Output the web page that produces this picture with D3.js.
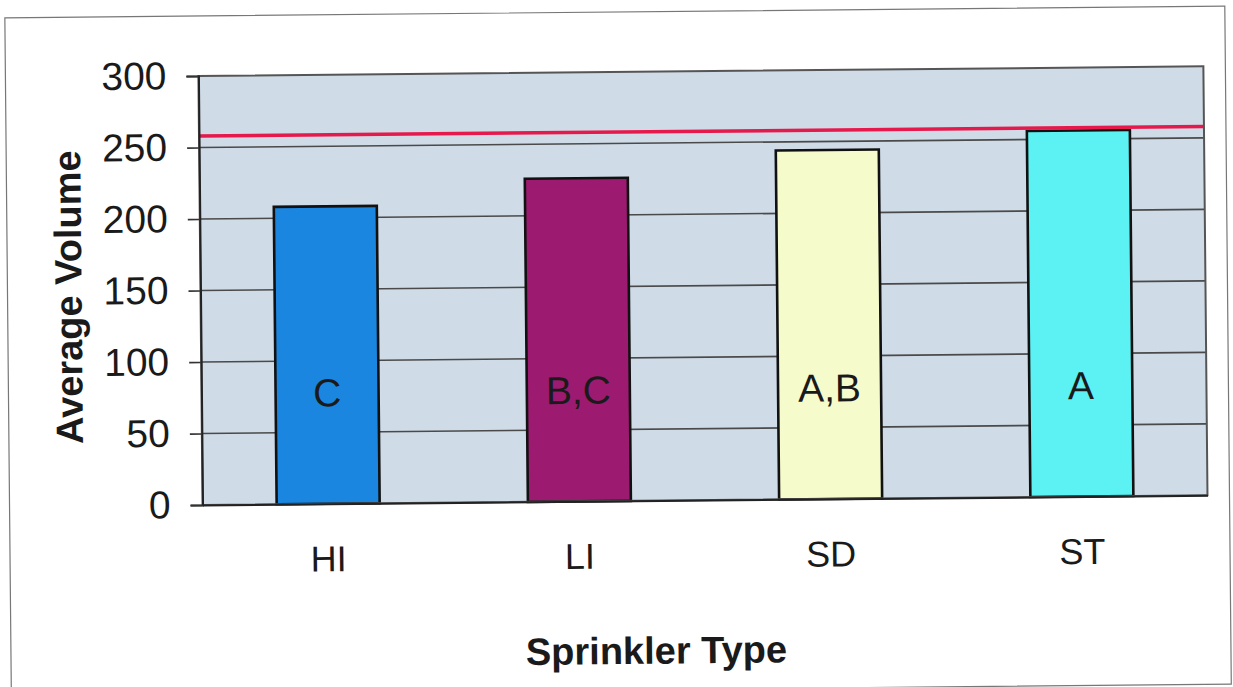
<!DOCTYPE html>
<html>
<head>
<meta charset="utf-8">
<script src="https://cdn.jsdelivr.net/npm/d3@7"></script>
<style>
  body { margin: 0; background: #fff; }
  svg { display: block; }
</style>
</head>
<body>
<svg width="1233" height="687"></svg>
<script>
// sprinkler types + mean volume
var types = ["HI", "LI", "SD", "ST"];
var volumes = [208, 226, 244, 256];
var groups = ["C", "B,C", "A,B", "A"];
var barColors = ["#1a86e0", "#9c1b70", "#f6fbcb", "#5cf1f3"];
var refValue = 258;
var yTicks = [0, 50, 100, 150, 200, 250, 300];

var svg = d3.select("svg");
var font = "'Liberation Sans', Arial, sans-serif";

// scan is slightly tilted, so turn the whole page a touch
var root = svg.append("g")
    .attr("transform", "rotate(-0.55,616,343)");

// page frame
root.append("rect")
    .attr("x", 8).attr("y", 12)
    .attr("width", 1220).attr("height", 678)
    .attr("fill", "#fff")
    .attr("stroke", "#777")
    .attr("stroke-width", 1.2);

var plotL = 201, plotR = 1206, plotT = 72, plotB = 501;

var x = d3.scaleBand()
    .domain(types)
    .range([plotL, plotR])
    .paddingInner(0.59)
    .paddingOuter(0.295);

var y = d3.scaleLinear()
    .domain([0, 300])
    .range([plotB, plotT]);

// plot area
root.append("rect")
    .attr("x", plotL).attr("y", plotT)
    .attr("width", plotR - plotL).attr("height", plotB - plotT)
    .attr("fill", "#cfdbe7");

// gridlines
root.append("g")
    .selectAll("line")
    .data(yTicks.slice(1, -1))
    .enter().append("line")
    .attr("x1", plotL).attr("x2", plotR)
    .attr("y1", d => y(d)).attr("y2", d => y(d))
    .attr("stroke", "#4a4a4a")
    .attr("stroke-width", 1.6);

// bars
root.append("g")
    .selectAll("rect")
    .data(types)
    .enter().append("rect")
    .attr("x", d => x(d))
    .attr("y", (d, i) => y(volumes[i]))
    .attr("width", x.bandwidth())
    .attr("height", (d, i) => y(0) - y(volumes[i]))
    .attr("fill", (d, i) => barColors[i])
    .attr("stroke", "#111")
    .attr("stroke-width", 2.6);

// significance letters
root.append("g")
    .selectAll("text")
    .data(types)
    .enter().append("text")
    .attr("x", d => x(d) + x.bandwidth() / 2)
    .attr("y", y(78))
    .attr("dy", "0.36em")
    .attr("text-anchor", "middle")
    .style("font-family", font)
    .style("font-size", "39px")
    .attr("fill", "#1a1a1a")
    .text((d, i) => groups[i]);

// reference line
root.append("line")
    .attr("x1", plotL).attr("x2", plotR)
    .attr("y1", y(refValue)).attr("y2", y(refValue))
    .attr("stroke", "#e5194c")
    .attr("stroke-width", 3.5);

// plot border
root.append("rect")
    .attr("x", plotL).attr("y", plotT)
    .attr("width", plotR - plotL).attr("height", plotB - plotT)
    .attr("fill", "none")
    .attr("stroke", "#555")
    .attr("stroke-width", 2);

// y axis
var yAxis = root.append("g")
    .attr("transform", "translate(" + plotL + ",0)")
    .call(d3.axisLeft(y).tickValues(yTicks).tickSize(12).tickPadding(20));
yAxis.select(".domain").attr("stroke", "#222").attr("stroke-width", 2);
yAxis.selectAll(".tick line").attr("stroke", "#333").attr("stroke-width", 1.6);
yAxis.selectAll("text")
    .style("font-family", font)
    .style("font-size", "39px")
    .attr("fill", "#1a1a1a");

// x axis labels (no tick marks in the original)
var xAxis = root.append("g")
    .attr("transform", "translate(0," + plotB + ")")
    .call(d3.axisBottom(x).tickSize(0).tickPadding(42));
xAxis.select(".domain").attr("stroke", "#222").attr("stroke-width", 2);
xAxis.selectAll("text")
    .style("font-family", font)
    .style("font-size", "36px")
    .attr("fill", "#1a1a1a");

// axis titles
root.append("text")
    .attr("transform", "translate(82,292) rotate(-90)")
    .attr("text-anchor", "middle")
    .style("font-family", font)
    .style("font-weight", "bold")
    .style("font-size", "38px")
    .attr("fill", "#1a1a1a")
    .text("Average Volume");

root.append("text")
    .attr("x", (plotL + plotR) / 2 - 50)
    .attr("y", 664)
    .attr("text-anchor", "middle")
    .style("font-family", font)
    .style("font-weight", "bold")
    .style("font-size", "38px")
    .attr("fill", "#1a1a1a")
    .text("Sprinkler Type");
</script>
</body>
</html>
